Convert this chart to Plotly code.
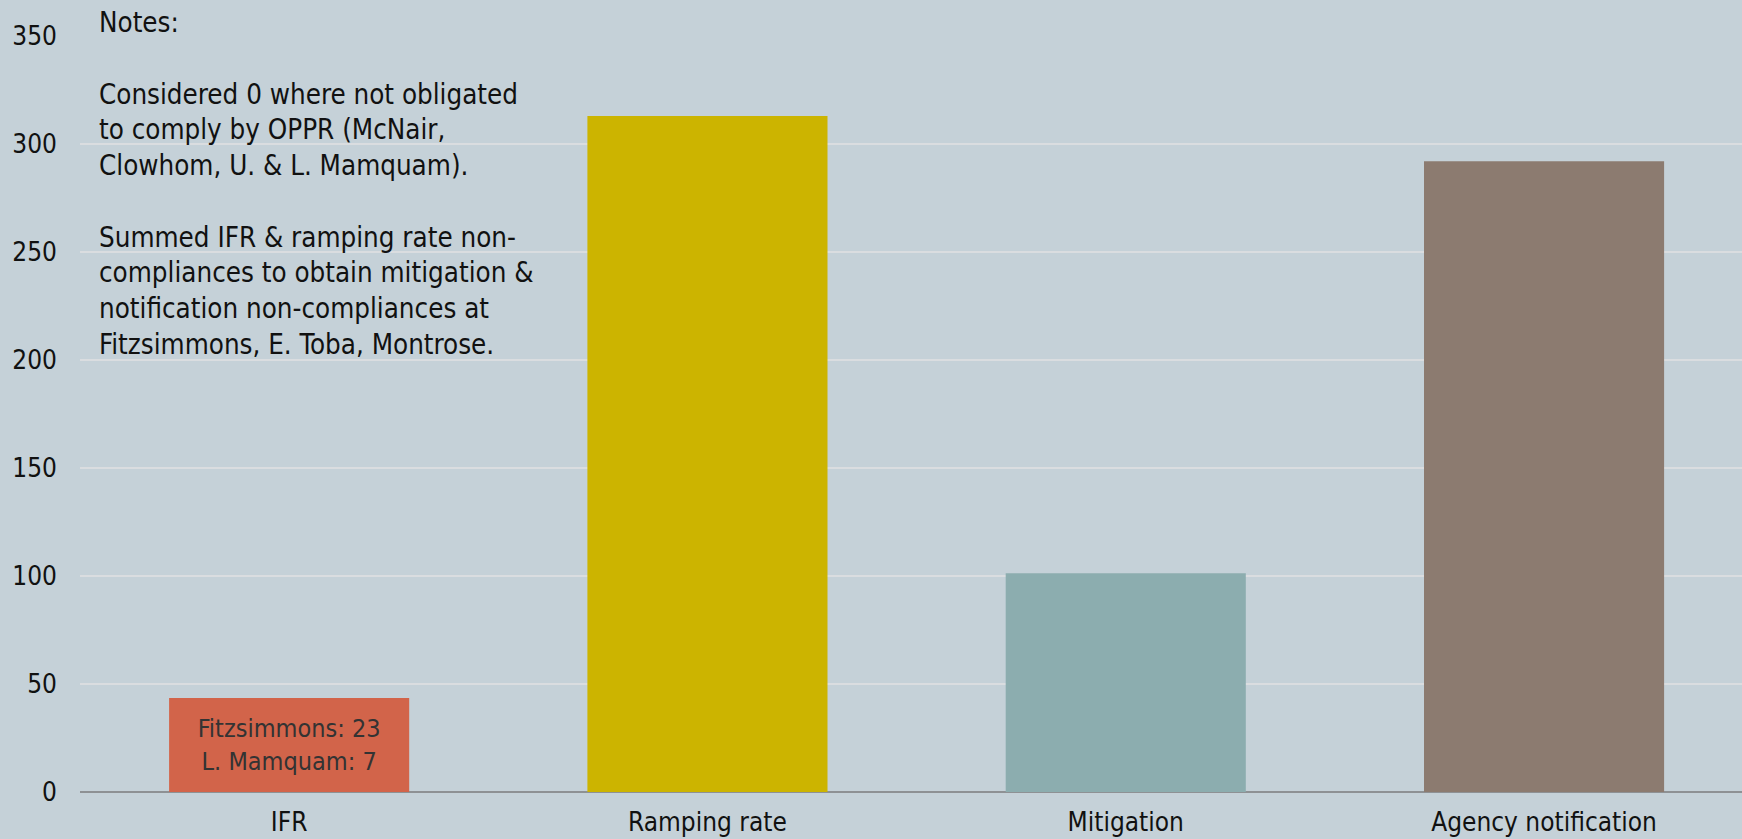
import plotly.graph_objects as go

categories = ["IFR", "Ramping rate", "Mitigation", "Agency notification"]
values = [43.5, 313, 101.3, 292]
colors = ["#D2644A", "#CCB400", "#8CADAF", "#8C7B70"]
bar_texts = ["Fitzsimmons: 23<br>L. Mamquam: 7", "", "", ""]
y_ticks = [0, 50, 100, 150, 200, 250, 300, 350]

notes = ("Notes:<br><br>"
         "Considered 0 where not obligated<br>"
         "to comply by OPPR (McNair,<br>"
         "Clowhom, U. & L. Mamquam).<br><br>"
         "Summed IFR & ramping rate non-<br>"
         "compliances to obtain mitigation &<br>"
         "notification non-compliances at<br>"
         "Fitzsimmons, E. Toba, Montrose.")

FONT = "DejaVu Sans Condensed, Tahoma, DejaVu Sans, sans-serif"
W, H = 1742, 839
ml, mr, mt, mb = 80, 0, 36, 47

fig = go.Figure()
fig.add_trace(go.Bar(
    x=list(range(len(categories))), y=values,
    marker=dict(color=colors, line=dict(width=0)),
    text=bar_texts, textposition="inside", insidetextanchor="middle",
    textangle=0, textfont=dict(family=FONT, size=25, color="#333333"),
    hoverinfo="skip",
))

fig.add_annotation(
    text=notes, xref="paper", yref="paper",
    x=(97 - ml) / (W - ml - mr), y=1 + (mt - 4) / (H - mt - mb),
    xanchor="left", yanchor="top", align="left", showarrow=False,
    font=dict(family=FONT, size=27.5, color="#111111"),
)

fig.update_layout(
    width=W, height=H,
    margin=dict(l=ml, r=mr, t=mt, b=mb, pad=0),
    paper_bgcolor="#C5D1D8", plot_bgcolor="#C5D1D8",
    bargap=0.426, showlegend=False,
    font=dict(family=FONT, size=26, color="#111111"),
    uniformtext=dict(mode=False),
)
fig.update_xaxes(
    tickmode="array", tickvals=list(range(len(categories))), ticktext=categories,
    range=[-0.5, -0.5 + (W - ml - mr) / 418.3],
    showgrid=False, zeroline=False, showline=False, ticks="",
    ticklabelstandoff=12, tickfont=dict(size=26),
)
fig.update_yaxes(
    range=[0, 350], tickvals=y_ticks, showgrid=True, gridcolor="#DADDE0", gridwidth=2,
    zeroline=True, zerolinecolor="#8E9194", zerolinewidth=2,
    showline=False, ticks="", ticklabelstandoff=22, tickfont=dict(size=26),
)

fig.write_html("out.html")
